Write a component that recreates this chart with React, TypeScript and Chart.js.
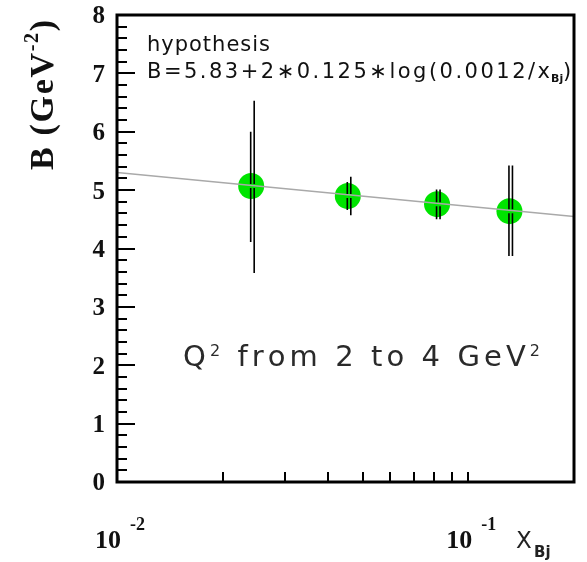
import React, { useEffect, useRef } from "react";
import { Chart, registerables } from "chart.js";

Chart.register(...registerables);

// ---- data ----
const xBj = [0.0241, 0.0454, 0.0815, 0.131];
const bValues = [5.07, 4.9, 4.76, 4.64];
const innerErrLow = [4.11, 4.66, 4.5, 3.87];
const innerErrHigh = [6.0, 5.14, 5.01, 5.42];
const outerErrLow = [3.58, 4.57, 4.5, 3.87];
const outerErrHigh = [6.53, 5.23, 5.01, 5.42];
const fitX = [0.01, 0.2];
const fitB = [5.3, 4.55];
const yTickLabels = ["0", "1", "2", "3", "4", "5", "6", "7", "8"];
const xDecadeExponents = [-2, -1];
const xTickValues = [0.02, 0.03, 0.04, 0.05, 0.06, 0.07, 0.08, 0.09, 0.1];
const hypothesisLabel = "hypothesis";
const formulaLabel = "B=5.83+2\u22170.125\u2217log(0.0012/x";
const q2Label = ["Q", "2", " from 2 to 4 GeV", "2"];

type Run = { t: string; font: string; dy: number };

function drawRuns(
  ctx: CanvasRenderingContext2D,
  runs: Run[],
  x: number,
  baseline: number,
  targetWidth?: number
) {
  let total = 0;
  let n = 0;
  for (const r of runs) {
    ctx.font = r.font;
    for (const ch of r.t) {
      total += ctx.measureText(ch).width;
      n++;
    }
  }
  const ls = targetWidth ? (targetWidth - total) / Math.max(1, n - 1) : 0;
  let cx = x;
  for (const r of runs) {
    ctx.font = r.font;
    for (const ch of r.t) {
      ctx.fillText(ch, cx, baseline + r.dy);
      cx += ctx.measureText(ch).width + ls;
    }
  }
}

const decorPlugin = {
  id: "decor",
  afterDatasetsDraw(chart: any) {
    const ctx: CanvasRenderingContext2D = chart.ctx;
    const xs = chart.scales.x;
    const ys = chart.scales.y;
    ctx.save();
    ctx.strokeStyle = "#000";
    ctx.lineWidth = 1.6;
    const bar = (px: number, lo: number, hi: number, cy: number) => {
      const yl = ys.getPixelForValue(lo);
      const yh = ys.getPixelForValue(hi);
      ctx.beginPath();
      ctx.moveTo(px, yl);
      ctx.lineTo(px, cy + 2);
      ctx.moveTo(px, cy - 2);
      ctx.lineTo(px, yh);
      ctx.stroke();
    };
    for (let i = 0; i < xBj.length; i++) {
      const px = xs.getPixelForValue(xBj[i]);
      const cy = ys.getPixelForValue(bValues[i]);
      bar(px - 0.5, innerErrLow[i], innerErrHigh[i], cy);
      bar(px + 3, outerErrLow[i], outerErrHigh[i], cy);
    }
    ctx.restore();
  },
  afterDraw(chart: any) {
    const ctx: CanvasRenderingContext2D = chart.ctx;
    const xs = chart.scales.x;
    const ys = chart.scales.y;
    const { left, right, top, bottom } = chart.chartArea;
    ctx.save();
    ctx.strokeStyle = "#000";
    // y ticks
    ctx.lineWidth = 2;
    for (let k = 0; k <= 40; k++) {
      const v = k / 5;
      const py = Math.round(ys.getPixelForValue(v));
      const len = k % 5 === 0 ? 18 : 10;
      ctx.beginPath();
      ctx.moveTo(left, py);
      ctx.lineTo(left + len, py);
      ctx.stroke();
    }
    // x ticks
    for (const v of xTickValues) {
      const px = Math.round(xs.getPixelForValue(v));
      ctx.beginPath();
      ctx.moveTo(px, bottom);
      ctx.lineTo(px, bottom - 10);
      ctx.stroke();
    }
    // frame
    ctx.lineWidth = 3;
    ctx.strokeRect(left, top, right - left, bottom - top);

    // y labels
    ctx.fillStyle = "#111";
    ctx.font = "bold 25px 'Liberation Serif'";
    ctx.textAlign = "right";
    ctx.textBaseline = "middle";
    yTickLabels.forEach((lab, i) => {
      ctx.fillText(lab, left - 12, ys.getPixelForValue(i) + 2);
    });

    // x labels
    ctx.textBaseline = "alphabetic";
    for (const e of xDecadeExponents) {
      const px = xs.getPixelForValue(Math.pow(10, e));
      ctx.textAlign = "right";
      ctx.font = "bold 26px 'Liberation Serif'";
      ctx.fillText("10", px + 4, 548);
      ctx.textAlign = "left";
      ctx.font = "bold 18px 'Liberation Serif'";
      ctx.fillText(String(e), px + 13, 530);
    }
    // x title
    ctx.fillStyle = "#222";
    ctx.textAlign = "left";
    ctx.font = "23px 'DejaVu Sans'";
    ctx.fillText("X", 516, 548);
    ctx.font = "bold 15px 'DejaVu Sans'";
    ctx.fillText("Bj", 534, 557);

    // y title (rotated)
    ctx.save();
    ctx.translate(53, 170);
    ctx.rotate(-Math.PI / 2);
    ctx.fillStyle = "#111";
    drawRuns(
      ctx,
      [
        { t: "B (GeV", font: "bold 34px 'Liberation Serif'", dy: 0 },
        { t: "-2", font: "bold 20px 'Liberation Serif'", dy: -15 },
        { t: ")", font: "bold 34px 'Liberation Serif'", dy: 0 },
      ],
      0,
      0,
      150
    );
    ctx.restore();

    // hypothesis text
    ctx.fillStyle = "#111";
    drawRuns(ctx, [{ t: hypothesisLabel, font: "21px 'DejaVu Sans'", dy: 0 }], 147, 51, 123);
    drawRuns(
      ctx,
      [{ t: formulaLabel, font: "21px 'DejaVu Sans'", dy: 0 }],
      147,
      78,
      403
    );
    ctx.font = "bold 11px 'DejaVu Sans'";
    ctx.fillText("Bj", 551, 82);
    ctx.font = "21px 'DejaVu Sans'";
    ctx.fillText(")", 563, 78);

    // Q2 text
    ctx.fillStyle = "#2a2a2a";
    drawRuns(
      ctx,
      [
        { t: q2Label[0], font: "29px 'DejaVu Sans'", dy: 0 },
        { t: q2Label[1], font: "16px 'DejaVu Sans'", dy: -10 },
        { t: q2Label[2], font: "29px 'DejaVu Sans'", dy: 0 },
        { t: q2Label[3], font: "16px 'DejaVu Sans'", dy: -10 },
      ],
      183,
      366,
      357
    );
    ctx.restore();
  },
};

export default function App() {
  const ref = useRef<HTMLCanvasElement | null>(null);
  useEffect(() => {
    document.body.style.margin = "0";
    document.body.style.overflow = "hidden";
    const canvas = ref.current;
    if (!canvas) return;
    const chart = new Chart(canvas, {
      type: "scatter",
      data: {
        datasets: [
          {
            data: fitX.map((x, i) => ({ x, y: fitB[i] })),
            showLine: true,
            borderColor: "#a9a9a9",
            borderWidth: 1.5,
            pointRadius: 0,
          },
          {
            data: xBj.map((x, i) => ({ x, y: bValues[i] })),
            pointRadius: 13,
            pointBackgroundColor: "rgb(0,228,0)",
            pointBorderWidth: 0,
            backgroundColor: "rgb(0,228,0)",
            borderWidth: 0,
          },
        ],
      },
      options: {
        animation: false,
        responsive: false,
        devicePixelRatio: 1,
        layout: { padding: { left: 117, right: 8, top: 15, bottom: 80 } },
        scales: {
          x: { type: "logarithmic", min: 0.01, max: 0.2, display: false },
          y: { type: "linear", min: 0, max: 8, display: false },
        },
        plugins: { legend: { display: false }, tooltip: { enabled: false } },
      },
      plugins: [decorPlugin],
    });
    return () => chart.destroy();
  }, []);
  return <canvas ref={ref} width={587} height={562} style={{ display: "block" }} />;
}
